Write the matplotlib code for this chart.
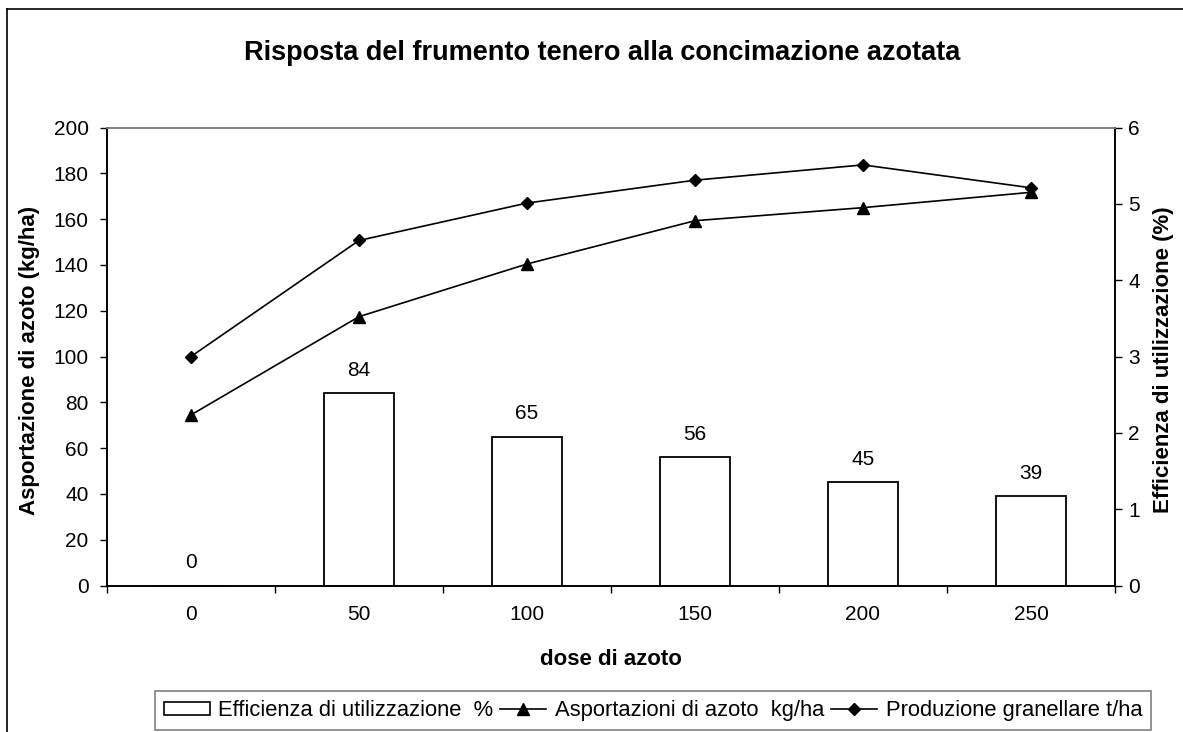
import matplotlib
matplotlib.use("Agg")
import matplotlib.pyplot as plt
from matplotlib.lines import Line2D
from matplotlib.patches import Patch
import numpy as np

plt.rcParams['font.family'] = ['Liberation Sans', 'DejaVu Sans']

categories = ["0", "50", "100", "150", "200", "250"]
efficienza = [0, 84, 65, 56, 45, 39]
asportazioni = [74.5, 117.4, 140.4, 159.3, 165.0, 171.7]
produzione = [3.0, 4.52, 5.01, 5.31, 5.51, 5.21]

W, H = 1183, 732
FS = 15
fig = plt.figure(figsize=(W / 100, H / 100), dpi=100)
ax = fig.add_axes([107 / W, 1 - 585.5 / H, (1115 - 107) / W, (585.5 - 127.5) / H])
ax2 = ax.twinx()

x = np.arange(len(categories))
ax.bar(x, efficienza, width=0.42, color='white', edgecolor='black',
       linewidth=1.3, zorder=2)
for xi, v in zip(x, efficienza):
    ax.annotate(f"{v}", (xi, v), xytext=(0, 12.5), textcoords='offset points',
                ha='center', va='baseline', fontsize=FS)

ax.plot(x, asportazioni, color='black', lw=1.2, marker='^', ms=8.5, zorder=3)
ax2.plot(x, produzione, color='black', lw=1.2, marker='D', ms=6.5, zorder=3)

ax.set_xlim(-0.5, 5.5)
ax.set_ylim(0, 200)
ax2.set_ylim(0, 6)
ax.set_yticks(np.arange(0, 201, 20))
ax2.set_yticks(np.arange(0, 7, 1))
ax.set_xticks(x)
ax.set_xticklabels(categories)
ax.set_xticks(np.arange(-0.5, 6, 1), minor=True)
ax.tick_params(axis='x', which='major', length=0, pad=14, labelsize=FS)
ax.tick_params(axis='x', which='minor', length=5.2, width=1, color='black')
ax.tick_params(axis='y', length=5.2, width=1, labelsize=FS, pad=8)
ax2.tick_params(axis='y', length=5.2, width=1, labelsize=FS, pad=4.5)

for a in (ax, ax2):
    a.spines['top'].set_color('#808080')
    a.spines['top'].set_linewidth(1.2)
    a.spines['left'].set_linewidth(1.2)
    a.spines['right'].set_linewidth(1.2)
    a.spines['bottom'].set_linewidth(1.2)

fig.text(611 / W, 1 - 665 / H, "dose di azoto", ha='center', va='baseline',
         fontsize=16, fontweight='bold')
fig.text(30 / W, 1 - 360 / H, "Asportazione di azoto (kg/ha)", ha='center',
         va='center', rotation=90, fontsize=16, fontweight='bold')
fig.text(1163 / W, 1 - 360 / H, "Efficienza di utilizzazione (%)", ha='center',
         va='center', rotation=90, fontsize=16, fontweight='bold')

fig.text(602.5 / W, 1 - 60 / H,
         "Risposta del frumento tenero alla concimazione azotata",
         ha='center', va='baseline', fontsize=19.5, fontweight='bold')

handles = [
    Patch(facecolor='white', edgecolor='black', linewidth=1.2),
    Line2D([], [], color='black', lw=1.2, marker='^', ms=8),
    Line2D([], [], color='black', lw=1.2, marker='D', ms=6),
]
labels = ["Efficienza di utilizzazione  %", "Asportazioni di azoto  kg/ha",
          "Produzione granellare t/ha"]
leg = fig.legend(handles, labels, loc='center', ncol=3,
                 bbox_to_anchor=((152 + 1154) / 2 / W, 1 - 710.5 / H),
                 fontsize=15.8, frameon=True, fancybox=False,
                 handlelength=2.1, handleheight=0.55, handletextpad=0.4,
                 columnspacing=0.3, borderpad=0.4, borderaxespad=0,
                 edgecolor='#606060')
leg.get_frame().set_linewidth(1.2)

# outer chart border (top and left)
fig.add_artist(Line2D([7 / W, 1.0], [1 - 9 / H, 1 - 9 / H], color='black', lw=1.2,
                      transform=fig.transFigure))
fig.add_artist(Line2D([7 / W, 7 / W], [0, 1 - 9 / H], color='black', lw=1.2,
                      transform=fig.transFigure))

fig.savefig("out.png", dpi=100)
